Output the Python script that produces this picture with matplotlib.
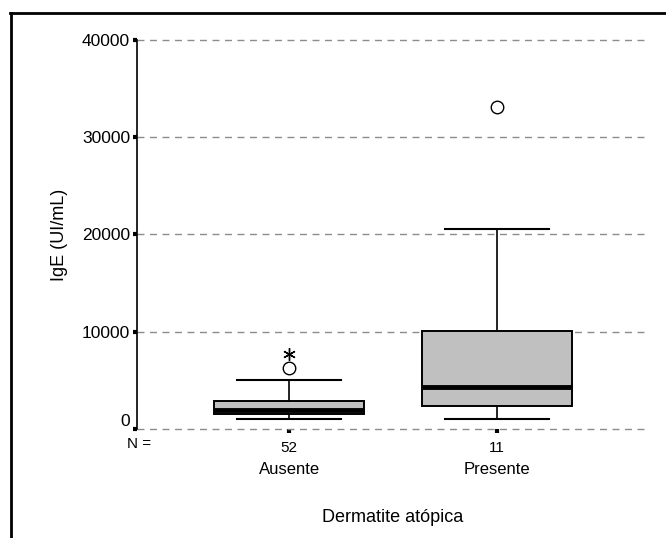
import numpy as np
import matplotlib
matplotlib.use('Agg')
from matplotlib import pyplot as plt
from matplotlib.lines import Line2D

plt.rcParams['font.family'] = ['Liberation Sans', 'DejaVu Sans']

groups = ['Ausente', 'Presente']
counts = [52, 11]
whislo = [1050, 1030]
q1 = [1550, 2350]
med = [1950, 4350]
q3 = [2900, 10100]
whishi = [5050, 20600]
outliers = [[6300], [33100]]      # circles
extremes = [[7700], []]           # asterisks
yticks = [0, 10000, 20000, 30000, 40000]

positions = [1, 2]
stats = []
for i in range(len(groups)):
    stats.append(dict(label=groups[i], whislo=whislo[i], q1=q1[i], med=med[i],
                      q3=q3[i], whishi=whishi[i], fliers=outliers[i]))

fig = plt.figure(figsize=(6.66, 5.38), dpi=100)
ax = fig.add_axes([137/666, 1 - 429/538, 511/666, 389/538])

ax.bxp(stats, positions=positions, widths=0.72, patch_artist=True,
       boxprops=dict(facecolor='#c0c0c0', edgecolor='black', linewidth=1.4),
       medianprops=dict(color='black', linewidth=3.5, solid_capstyle='butt'),
       whiskerprops=dict(color='black', linewidth=1.2),
       capprops=dict(color='black', linewidth=1.5),
       capwidths=0.5,
       flierprops=dict(marker='o', markersize=9, markerfacecolor='none',
                       markeredgecolor='black', markeredgewidth=1.0, linestyle='none'))

for p, ext in zip(positions, extremes):
    if ext:
        ax.plot([p] * len(ext), ext, linestyle='none', marker=(6, 2, 0),
                markersize=9, color='black', markeredgewidth=1.0)

ax.set_xlim(0.269, 2.726)
ax.set_ylim(0, 40000)
ax.set_yticks(yticks)
ax.set_yticklabels([str(t) for t in yticks], fontsize=12.5)
ax.get_yticklabels()[0].set_verticalalignment('bottom')
ax.set_xticks(positions)
ax.set_xticklabels([str(c) for c in counts], fontsize=11)

ax.yaxis.grid(True, linestyle=(0, (5, 4)), color='#8c8c8c', linewidth=1.0)
for gl in ax.get_ygridlines():
    gl.set_clip_on(False)
ax.set_axisbelow(True)

for s in ['top', 'right', 'bottom']:
    ax.spines[s].set_visible(False)
ax.spines['left'].set_linewidth(1.2)

ax.tick_params(axis='y', direction='out', length=3, width=3, pad=2)
ax.tick_params(axis='x', direction='out', length=3, width=3, pad=6)

ax.annotate('N =', xy=(0, 0), xycoords='axes fraction', xytext=(2, -15),
            textcoords='offset pixels', ha='center', va='center', fontsize=11)
for p, g in zip(positions, groups):
    ax.annotate(g, xy=(p, 0), xycoords=('data', 'axes fraction'), xytext=(0, -41),
                textcoords='offset pixels', ha='center', va='center', fontsize=12)

ax.set_ylabel('IgE (UI/mL)', fontsize=13)
ax.yaxis.set_label_coords(-0.136, 0.5)
ax.set_xlabel('Dermatite atópica', fontsize=13)
ax.xaxis.set_label_coords(0.5, -0.206)

# frame around the picture (top and left edges)
fig.add_artist(Line2D([10/666, 1], [1 - 13/538, 1 - 13/538], color='black', linewidth=2))
fig.add_artist(Line2D([11/666, 11/666], [0, 1 - 13/538], color='black', linewidth=2))

fig.savefig('out.png', dpi=100)
